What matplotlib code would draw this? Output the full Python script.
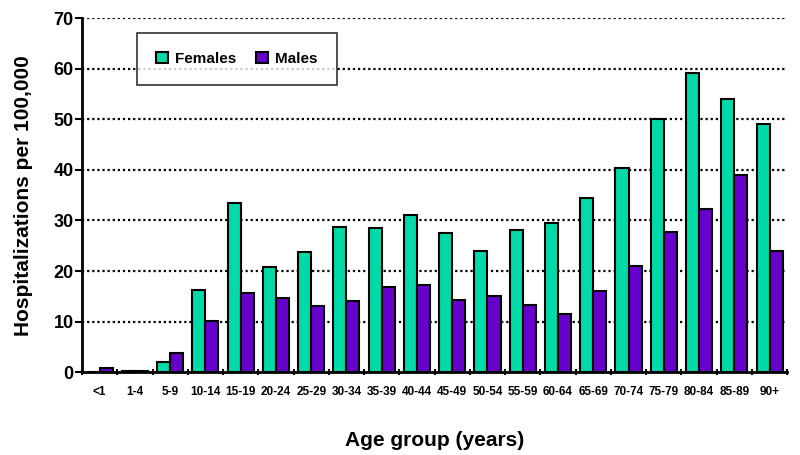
import numpy as np
import matplotlib
matplotlib.use("Agg")
import matplotlib.pyplot as plt

ages = ["<1", "1-4", "5-9", "10-14", "15-19", "20-24", "25-29", "30-34",
        "35-39", "40-44", "45-49", "50-54", "55-59", "60-64", "65-69",
        "70-74", "75-79", "80-84", "85-89", "90+"]
females = [0.0, 0.2, 2.0, 16.3, 33.5, 20.8, 23.7, 28.8, 28.5, 31.0,
           27.6, 23.9, 28.1, 29.6, 34.4, 40.3, 50.1, 59.2, 54.1, 49.1]
males = [0.9, 0.2, 3.8, 10.2, 15.6, 14.6, 13.1, 14.1, 16.9, 17.2,
         14.3, 15.1, 13.2, 11.5, 16.1, 20.9, 27.7, 32.3, 38.9, 23.9]

plt.rcParams['font.family'] = ['Liberation Sans', 'DejaVu Sans']

fig = plt.figure(figsize=(8, 4.55), dpi=100)
ax = fig.add_axes([0.1025, 0.182, 0.8815, 0.778])

x = np.arange(len(ages))
w = 0.37
ax.bar(x - w / 2, females, w, color='#00D9A8', edgecolor='black',
       linewidth=1.5, label='Females', zorder=3)
ax.bar(x + w / 2, males, w, color='#6600CC', edgecolor='black',
       linewidth=1.5, label='Males', zorder=3)

ax.set_xlim(-0.5, len(ages) - 0.5)
ax.set_ylim(0, 70)
ax.set_yticks(range(0, 71, 10))
ax.set_yticklabels([str(v) for v in range(0, 71, 10)], fontsize=13,
                   fontweight='bold')
for v in range(10, 71, 10):
    ax.axhline(v, color='black', linestyle=(0, (1.0, 1.3)), linewidth=1.6,
               zorder=1)

ax.set_xticks(x)
ax.set_xticklabels(ages, fontsize=8.5, fontweight='bold')
ax.tick_params(axis='x', length=0, pad=10)
ax.set_xticks(np.arange(-0.5, len(ages), 1), minor=True)
ax.tick_params(axis='x', which='minor', length=5, width=1.5, direction='inout')
ax.tick_params(axis='y', length=5, width=1.5, direction='out', pad=1)

for s in ['top', 'right']:
    ax.spines[s].set_visible(False)
for s in ['left', 'bottom']:
    ax.spines[s].set_linewidth(2)

ax.set_ylabel('Hospitalizations per 100,000', fontsize=15, fontweight='bold',
              labelpad=15)
ax.set_xlabel('Age group (years)', fontsize=15, fontweight='bold',
              labelpad=24)

leg = ax.legend(loc='upper left', bbox_to_anchor=(0.078, 0.958), ncol=2,
                frameon=True, fancybox=False, borderaxespad=0,
                prop={'weight': 'bold', 'size': 11},
                handlelength=0.75, handleheight=0.75, columnspacing=1.3,
                borderpad=1.25, handletextpad=0.5)
leg.get_frame().set_edgecolor('black')
leg.get_frame().set_linewidth(1.2)
leg.set_zorder(5)

fig.savefig('out.png', dpi=100)
